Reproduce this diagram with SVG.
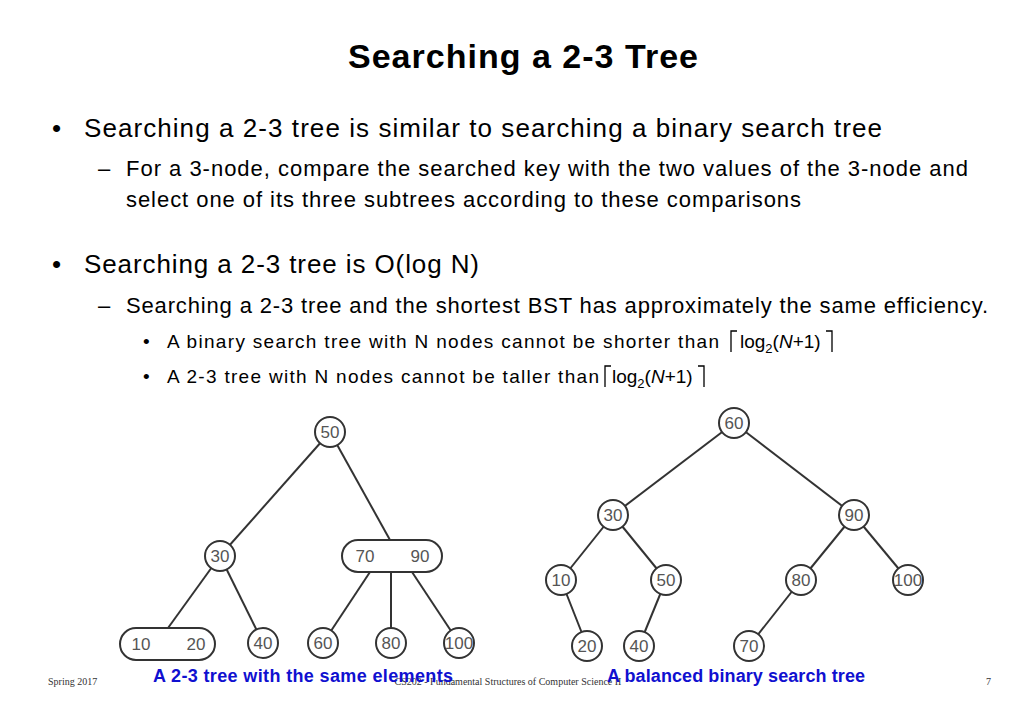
<svg xmlns="http://www.w3.org/2000/svg" width="1024" height="709" viewBox="0 0 1024 709">
<style>
.t{font-family:"Liberation Sans",Arial,sans-serif;fill:#000}
.n circle,.n rect{fill:#fff;stroke:#333;stroke-width:2}
.n text{font-family:"Liberation Sans",Arial,sans-serif;font-size:17px;fill:#555;text-anchor:middle}
.e line{stroke:#333;stroke-width:2}
.cap{font-family:"Liberation Sans",Arial,sans-serif;font-weight:bold;font-size:18px;fill:#1010d0}
.f{font-family:"Liberation Serif",serif;font-size:10px;fill:#333}
</style>
<rect width="1024" height="709" fill="#fff"/>
<text class="t" x="523" y="68" font-size="34" font-weight="bold" text-anchor="middle" textLength="350">Searching a 2-3 Tree</text>
<text class="t" x="52" y="137" font-size="26">•</text>
<text class="t" x="84" y="137" font-size="26" textLength="798">Searching a 2-3 tree is similar to searching a binary search tree</text>
<text class="t" x="98" y="176" font-size="22">–</text>
<text class="t" x="126" y="176" font-size="22" textLength="842">For a 3-node, compare the searched key with the two values of the 3-node and</text>
<text class="t" x="126" y="207" font-size="22" textLength="675">select one of its three subtrees according to these comparisons</text>
<text class="t" x="52" y="273" font-size="26">•</text>
<text class="t" x="84" y="273" font-size="26" textLength="395">Searching a 2-3 tree is O(log N)</text>
<text class="t" x="98" y="313" font-size="22">–</text>
<text class="t" x="126" y="313" font-size="22" textLength="862">Searching a 2-3 tree and the shortest BST has approximately the same efficiency.</text>
<text class="t" x="143" y="348" font-size="19">•</text>
<text class="t" x="167" y="348" font-size="19" textLength="552">A binary search tree with N nodes cannot be shorter than</text>
<text class="t" x="740" y="348" font-size="19">log<tspan font-size="13" dy="5">2</tspan><tspan dy="-5">(</tspan><tspan font-style="italic">N</tspan>+1)</text>
<path d="M731 352V331h6M826 331h6v21" fill="none" stroke="#000" stroke-width="1.3"/>
<text class="t" x="143" y="383" font-size="19">•</text>
<text class="t" x="167" y="383" font-size="19" textLength="432">A 2-3 tree with N nodes cannot be taller than</text>
<text class="t" x="612" y="383" font-size="19">log<tspan font-size="13" dy="5">2</tspan><tspan dy="-5">(</tspan><tspan font-style="italic">N</tspan>+1)</text>
<path d="M605 387V366h6M698 366h6v21" fill="none" stroke="#000" stroke-width="1.3"/>
<g class="e" id="connectors">
<line x1="330" y1="432" x2="220" y2="556"/><line x1="330" y1="432" x2="390" y2="540"/>
<line x1="220" y1="556" x2="168" y2="628"/><line x1="220" y1="556" x2="263" y2="643"/>
<line x1="370" y1="572" x2="323" y2="643"/><line x1="391" y1="572" x2="391" y2="643"/><line x1="412" y1="572" x2="459" y2="643"/>
<line x1="734" y1="423" x2="613" y2="515"/><line x1="734" y1="423" x2="854" y2="515"/>
<line x1="613" y1="515" x2="561" y2="580"/><line x1="613" y1="515" x2="666" y2="580"/>
<line x1="854" y1="515" x2="801" y2="580"/><line x1="854" y1="515" x2="908" y2="580"/>
<line x1="561" y1="580" x2="587" y2="646"/><line x1="666" y1="580" x2="639" y2="646"/><line x1="801" y1="580" x2="749" y2="646"/>
</g>
<g class="n" id="L50"><circle cx="330" cy="432" r="15"/><text x="330" y="438">50</text></g>
<g class="n" id="L30"><circle cx="220" cy="556" r="15"/><text x="220" y="562">30</text></g>
<g class="n" id="L7090"><rect x="342" y="540" width="100" height="32" rx="16"/><text x="365" y="562">70</text><text x="420" y="562">90</text></g>
<g class="n" id="L1020"><rect x="120" y="628" width="95" height="32" rx="16"/><text x="141" y="650">10</text><text x="196" y="650">20</text></g>
<g class="n" id="L40"><circle cx="263" cy="643" r="15"/><text x="263" y="649">40</text></g>
<g class="n" id="L60"><circle cx="323" cy="643" r="15"/><text x="323" y="649">60</text></g>
<g class="n" id="L80"><circle cx="391" cy="643" r="15"/><text x="391" y="649">80</text></g>
<g class="n" id="L100"><circle cx="459" cy="643" r="15"/><text x="459" y="649">100</text></g>
<g class="n" id="R60"><circle cx="734" cy="423" r="15"/><text x="734" y="429">60</text></g>
<g class="n" id="R30"><circle cx="613" cy="515" r="15"/><text x="613" y="521">30</text></g>
<g class="n" id="R90"><circle cx="854" cy="515" r="15"/><text x="854" y="521">90</text></g>
<g class="n" id="R10"><circle cx="561" cy="580" r="15"/><text x="561" y="586">10</text></g>
<g class="n" id="R50"><circle cx="666" cy="580" r="15"/><text x="666" y="586">50</text></g>
<g class="n" id="R80"><circle cx="801" cy="580" r="15"/><text x="801" y="586">80</text></g>
<g class="n" id="R100"><circle cx="908" cy="580" r="15"/><text x="908" y="586">100</text></g>
<g class="n" id="R20"><circle cx="587" cy="646" r="15"/><text x="587" y="652">20</text></g>
<g class="n" id="R40"><circle cx="639" cy="646" r="15"/><text x="639" y="652">40</text></g>
<g class="n" id="R70"><circle cx="749" cy="646" r="15"/><text x="749" y="652">70</text></g>
<text class="f" x="48" y="685">Spring 2017</text>
<text class="f" x="508" y="685" text-anchor="middle">CS202 - Fundamental Structures of Computer Science II</text>
<text class="f" x="986" y="685">7</text>
<text class="cap" x="153" y="682" textLength="300">A 2-3 tree with the same elements</text>
<text class="cap" x="607" y="682" textLength="258">A balanced binary search tree</text>
</svg>
